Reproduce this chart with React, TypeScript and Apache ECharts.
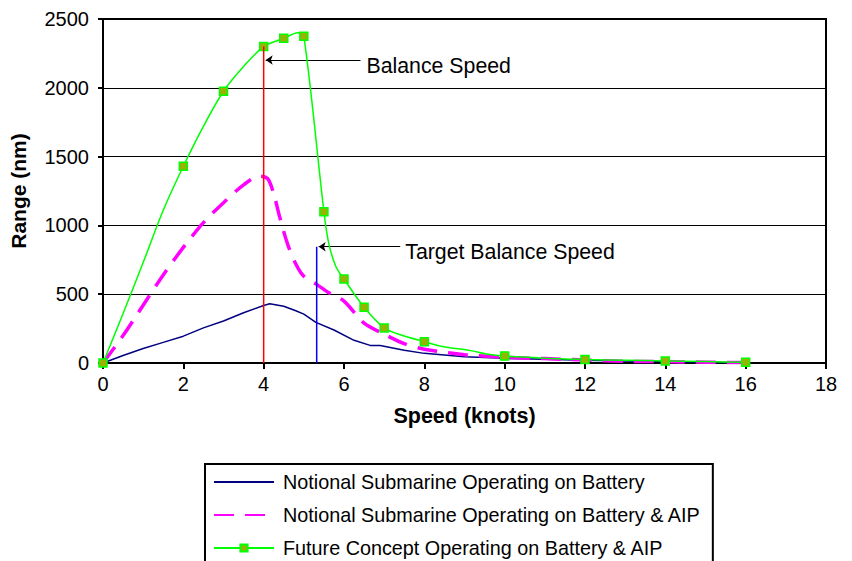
import React, { useEffect, useRef } from "react";
import * as echarts from "echarts";

const seriesNames = [
  "Notional Submarine Operating on Battery",
  "Notional Submarine Operating on Battery & AIP",
  "Future Concept Operating on Battery & AIP",
];

const speedBlue = [0, 0.5, 1, 1.5, 2, 2.5, 3, 3.5, 4, 4.15, 4.5, 4.8, 5, 5.3, 5.75, 6.25, 6.65, 6.9, 7.5, 8, 9, 10, 11, 12, 13, 14, 15, 16];
const rangeBlue = [0, 55, 105, 150, 195, 255, 305, 365, 418, 430, 412, 380, 355, 295, 240, 165, 128, 127, 92, 70, 46, 34, 28, 20, 14, 10, 6, 2];

const speedMagenta = [0, 0.5, 1, 1.5, 2, 2.5, 3, 3.5, 3.9, 4.1, 4.25, 4.4, 4.6, 4.8, 5, 5.3, 5.6, 6, 6.5, 7, 7.5, 8, 9, 10, 11, 12, 13, 14, 15, 16];
const rangeMagenta = [0, 200, 420, 640, 840, 1020, 1165, 1295, 1358, 1340, 1230, 1060, 860, 720, 630, 575, 515, 450, 290, 210, 140, 100, 60, 42, 32, 22, 12, 10, 6, 3];

const speedGreen = [0, 0.5, 1, 1.5, 2, 2.5, 3, 3.5, 4, 4.5, 4.85, 5, 5.5, 5.62, 5.8, 6, 6.5, 7, 7.4, 8, 8.45, 9.15, 9.55, 10, 11, 12, 13, 14, 15, 16];
const rangeGreen = [0, 360, 730, 1110, 1430, 1720, 1975, 2155, 2300, 2360, 2400, 2375, 1100, 870, 700, 610, 405, 255, 205, 155, 120, 90, 65, 50, 35, 25, 20, 15, 10, 5];
const markedGreen = [1, 0, 0, 0, 1, 0, 1, 0, 1, 1, 0, 1, 1, 0, 0, 1, 1, 1, 0, 1, 0, 0, 0, 1, 0, 1, 0, 1, 0, 1];

const balanceSpeed = [4, 2300];
const balanceArrow = [[6.41, 2202], [4.05, 2202]];
const targetSpeed = [5.32, 845];
const targetArrow = [[7.4, 845], [5.37, 845]];

const xTicks = { min: 0, max: 18, interval: 2 };
const yTicks = { min: 0, max: 2500, interval: 500 };

const FONT = "Liberation Sans, Arial, sans-serif";

export default function App() {
  const ref = useRef<HTMLDivElement>(null);
  useEffect(() => {
    if (!ref.current) return;
    const chart = echarts.init(ref.current, undefined, { renderer: "svg" });
    const pair = (xs: number[], ys: number[]) => xs.map((x, i) => [x, ys[i]]);
    const greenData = speedGreen.map((x, i) =>
      markedGreen[i] ? { value: [x, rangeGreen[i]] } : { value: [x, rangeGreen[i]], symbol: "none" }
    );
    const labelStyle = { color: "#000", fontSize: 21.3, fontFamily: FONT };
    chart.setOption({
      animation: false,
      textStyle: { fontFamily: FONT },
      grid: {
        left: 102,
        top: 19,
        width: 724,
        height: 344,
        show: true,
        borderColor: "#000",
        borderWidth: 2,
        containLabel: false,
      },
      xAxis: {
        type: "value",
        ...xTicks,
        name: "Speed (knots)",
        nameLocation: "middle",
        nameGap: 42,
        nameTextStyle: { fontSize: 21.5, fontWeight: "bold", color: "#000", fontFamily: FONT },
        axisLine: { show: true, lineStyle: { color: "#000", width: 2 } },
        axisTick: { show: true, length: 6, lineStyle: { color: "#000", width: 2 } },
        axisLabel: { fontSize: 20, color: "#000", margin: 11, fontFamily: FONT, formatter: (v: number) => String(v) },
        splitLine: { show: false },
      },
      yAxis: {
        type: "value",
        ...yTicks,
        name: "Range (nm)",
        nameLocation: "middle",
        nameGap: 74,
        nameTextStyle: { fontSize: 21, fontWeight: "bold", color: "#000", fontFamily: FONT },
        axisLine: { show: true, lineStyle: { color: "#000", width: 2 } },
        axisTick: { show: true, length: 5, lineStyle: { color: "#000", width: 2 } },
        axisLabel: { fontSize: 20, color: "#000", margin: 14, fontFamily: FONT, formatter: (v: number) => String(v) },
        splitLine: { show: true, lineStyle: { color: "#000", width: 1 } },
      },
      legend: {
        data: [
          { name: seriesNames[0], itemStyle: { opacity: 0 } },
          { name: seriesNames[1], itemStyle: { opacity: 0 } },
          { name: seriesNames[2] },
        ],
        orient: "vertical",
        left: 205,
        top: 464,
        height: 130,
        borderColor: "#000",
        borderWidth: 2,
        padding: [8, 12, 8, 8],
        itemWidth: 60,
        itemHeight: 9,
        itemGap: 13,
        textStyle: { fontSize: 19.8, color: "#000", fontFamily: FONT, padding: [0, 0, 0, 4] },
      },
      series: [
        {
          name: seriesNames[0],
          type: "line",
          data: pair(speedBlue, rangeBlue),
          showSymbol: false,
          symbol: "none",
          color: "#000080",
          lineStyle: { color: "#000080", width: 1.5 },
          z: 3,
        },
        {
          name: seriesNames[1],
          type: "line",
          data: pair(speedMagenta, rangeMagenta),
          symbol: "none",
          smooth: 0.3,
          color: "#FF00FF",
          lineStyle: { color: "#FF00FF", width: 3.5, type: [20, 11] },
          z: 4,
        },
        {
          name: seriesNames[2],
          type: "line",
          data: greenData,
          symbol: "rect",
          symbolSize: 8,
          smooth: 0.3,
          color: "#00FF00",
          itemStyle: { color: "#99B300", borderColor: "#00FF00", borderWidth: 1.5 },
          lineStyle: { color: "#00FF00", width: 1.5 },
          z: 5,
        },
        {
          name: "balance",
          type: "line",
          data: [[balanceSpeed[0], 0], balanceSpeed],
          symbol: "none",
          lineStyle: { color: "#FF0000", width: 1.5 },
          z: 6,
          silent: true,
          markLine: {
            silent: true,
            symbol: ["none", "arrow"],
            symbolSize: 7,
            lineStyle: { color: "#000", width: 1.2, type: "solid" },
            label: { show: true, position: "start", distance: 6, formatter: "Balance Speed", offset: [0, 6], ...labelStyle },
            data: [[{ coord: balanceArrow[0] }, { coord: balanceArrow[1] }]],
          },
        },
        {
          name: "target",
          type: "line",
          data: [[targetSpeed[0], 0], targetSpeed],
          symbol: "none",
          lineStyle: { color: "#0000FF", width: 1.5 },
          z: 6,
          silent: true,
          markLine: {
            silent: true,
            symbol: ["none", "arrow"],
            symbolSize: 7,
            lineStyle: { color: "#000", width: 1.2, type: "solid" },
            label: { show: true, position: "start", distance: 5, formatter: "Target Balance Speed", offset: [0, 5], ...labelStyle },
            data: [[{ coord: targetArrow[0] }, { coord: targetArrow[1] }]],
          },
        },
      ],
    });
    return () => chart.dispose();
  }, []);
  return (
    <div
      ref={ref}
      style={{ position: "absolute", left: 0, top: 0, width: 852, height: 561, background: "#fff" }}
    />
  );
}
